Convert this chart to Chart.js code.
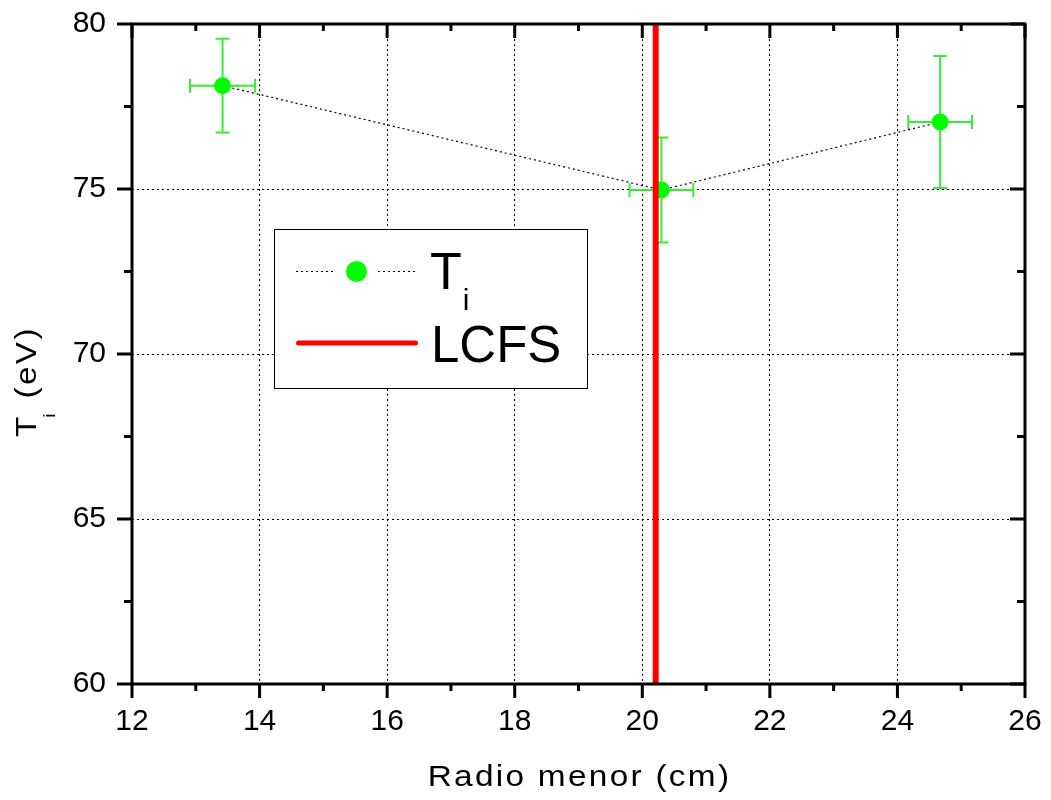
<!DOCTYPE html>
<html><head><meta charset="utf-8">
<script src="https://cdn.jsdelivr.net/npm/chart.js@4.4.0/dist/chart.umd.min.js"></script>
<style>html,body{margin:0;padding:0;background:#fff;}#wrap{width:1051px;height:800px;}</style>
</head><body><div id="wrap"><canvas id="c" width="1051" height="800"></canvas></div>
<script>
// ---- data ----
const radio    = [13.42, 20.30, 24.67];   // Radio menor (cm)
const radioErr = [0.51, 0.50, 0.50];
const ti       = [78.13, 74.97, 77.03];   // T_i (eV)
const tiErr    = [1.42, 1.59, 2.00];
const lcfsX    = [20.21, 20.21];
const lcfsY    = [60, 80];
const xRange   = [12, 26];
const yRange   = [60, 80];
const xStep = 2, yStep = 5;
const xTitle = 'Radio menor (cm)';
const yTitleMain = 'T', yTitleSub = 'i', yTitleRest = ' (eV)';
const legendTiMain = 'T', legendTiSub = 'i', legendLcfs = 'LCFS';

const FONT = '"Liberation Sans", Arial, sans-serif';
const GREEN = '#00ff00', ERR_GREEN = '#33ee33', RED = '#ff0000';

const errorBars = {
  id: 'errorBars',
  beforeDatasetDraw(chart, args) {
    if (args.index !== 1) return;
    const {ctx, scales: {x, y}} = chart;
    ctx.save();
    ctx.strokeStyle = ERR_GREEN; ctx.lineWidth = 2; ctx.setLineDash([]);
    const cap = 7;
    radio.forEach((r, i) => {
      const px = x.getPixelForValue(r), py = y.getPixelForValue(ti[i]);
      const y1 = y.getPixelForValue(ti[i] + tiErr[i]), y2 = y.getPixelForValue(ti[i] - tiErr[i]);
      const x1 = x.getPixelForValue(r - radioErr[i]), x2 = x.getPixelForValue(r + radioErr[i]);
      ctx.beginPath();
      ctx.moveTo(px, y1); ctx.lineTo(px, y2);
      ctx.moveTo(px - cap, y1); ctx.lineTo(px + cap, y1);
      ctx.moveTo(px - cap, y2); ctx.lineTo(px + cap, y2);
      ctx.moveTo(x1, py); ctx.lineTo(x2, py);
      ctx.moveTo(x1, py - cap); ctx.lineTo(x1, py + cap);
      ctx.moveTo(x2, py - cap); ctx.lineTo(x2, py + cap);
      ctx.stroke();
    });
    ctx.restore();
  }
};

const frameAndText = {
  id: 'frameAndText',
  afterDraw(chart) {
    const {ctx, chartArea: a, scales: {x, y}} = chart;
    ctx.save();
    ctx.setLineDash([]);
    ctx.strokeStyle = '#000'; ctx.lineWidth = 3;
    ctx.strokeRect(a.left, a.top, a.right - a.left, a.bottom - a.top);
    ctx.lineWidth = 3;
    ctx.beginPath();
    for (let v = xRange[0]; v <= xRange[1] + 1e-9; v += xStep / 2) {
      const p = x.getPixelForValue(v);
      const major = Math.abs((v - xRange[0]) % xStep) < 1e-9;
      const L = major ? 14 : 7;
      ctx.moveTo(p, a.bottom); ctx.lineTo(p, a.bottom + L);
      ctx.moveTo(p, a.top); ctx.lineTo(p, a.top + L);
    }
    for (let v = yRange[0]; v <= yRange[1] + 1e-9; v += yStep / 2) {
      const p = y.getPixelForValue(v);
      const major = Math.abs((v - yRange[0]) % yStep) < 1e-9;
      const L = major ? 15 : 8;
      ctx.moveTo(a.left - L, p); ctx.lineTo(a.left, p);
      ctx.moveTo(a.right - L, p); ctx.lineTo(a.right, p);
    }
    ctx.stroke();

    // axis titles (slightly widened glyphs like the reference)
    const SX = 1.15;
    ctx.fillStyle = '#000';
    ctx.textBaseline = 'alphabetic';
    ctx.letterSpacing = '2px';
    ctx.save();
    ctx.translate((a.left + a.right) / 2 + 1, 786);
    ctx.scale(SX, 1);
    ctx.font = '29px ' + FONT;
    ctx.textAlign = 'center';
    ctx.fillText(xTitle, 0, 0);
    ctx.restore();

    ctx.save();
    ctx.translate(36, 437);
    ctx.rotate(-Math.PI / 2);
    ctx.scale(SX, 1);
    ctx.textAlign = 'left';
    ctx.font = '29px ' + FONT;
    ctx.fillText(yTitleMain, 0, 0);
    let w = ctx.measureText(yTitleMain).width;
    ctx.font = '17px ' + FONT;
    ctx.fillText(yTitleSub, w - 3, 19);
    w += ctx.measureText(yTitleSub).width;
    ctx.font = '29px ' + FONT;
    ctx.fillText(yTitleRest, w - 2, 0);
    ctx.restore();

    // legend
    ctx.letterSpacing = '0px';
    ctx.fillStyle = '#fff';
    ctx.fillRect(274, 229, 313, 159);
    ctx.strokeStyle = '#000'; ctx.lineWidth = 1;
    ctx.strokeRect(274.5, 229.5, 313, 159);
    ctx.setLineDash([2, 3]);
    ctx.beginPath();
    ctx.moveTo(296, 271.5); ctx.lineTo(334, 271.5);
    ctx.moveTo(378, 271.5); ctx.lineTo(418, 271.5);
    ctx.stroke();
    ctx.setLineDash([]);
    ctx.fillStyle = GREEN;
    ctx.beginPath(); ctx.arc(356.5, 271.5, 10.5, 0, Math.PI * 2); ctx.fill();
    ctx.strokeStyle = RED; ctx.lineWidth = 5; ctx.lineCap = 'round';
    ctx.beginPath(); ctx.moveTo(298.5, 343); ctx.lineTo(415.5, 343); ctx.stroke();
    ctx.fillStyle = '#000';
    ctx.textAlign = 'left';
    ctx.font = '52px ' + FONT;
    ctx.fillText(legendTiMain, 430, 289);
    let tw = ctx.measureText(legendTiMain).width;
    ctx.font = '30px ' + FONT;
    ctx.fillText(legendTiSub, 430 + tw + 1, 310);
    ctx.font = '51px ' + FONT;
    ctx.fillText(legendLcfs, 431, 362);
    ctx.restore();
  }
};

new Chart(document.getElementById('c'), {
  type: 'scatter',
  data: {
    datasets: [
      {
        label: legendLcfs,
        data: lcfsX.map((v, i) => ({x: v, y: lcfsY[i]})),
        showLine: true, borderColor: RED, borderWidth: 6,
        pointRadius: 0, order: 0
      },
      {
        label: legendTiMain + legendTiSub,
        data: radio.map((v, i) => ({x: v, y: ti[i]})),
        showLine: true, borderColor: '#000', borderWidth: 1.2, borderDash: [2, 3],
        pointRadius: 8.5, pointBackgroundColor: GREEN, pointBorderWidth: 0,
        order: 1
      }
    ]
  },
  options: {
    responsive: false, animation: false, devicePixelRatio: 1,
    layout: {padding: {top: 24, right: 26, left: 0, bottom: 0}},
    plugins: {legend: {display: false}, tooltip: {enabled: false}},
    scales: {
      x: {
        type: 'linear', min: xRange[0], max: xRange[1],
        ticks: {stepSize: xStep, color: '#000', font: {size: 30, family: FONT}, padding: 20, maxRotation: 0},
        grid: {color: '#000', lineWidth: 1, drawTicks: false},
        border: {display: false, dash: [2, 3]},
        afterFit(s) { s.height = 116; s.paddingLeft = 0; s.paddingRight = 0; }
      },
      y: {
        type: 'linear', min: yRange[0], max: yRange[1],
        ticks: {stepSize: yStep, color: '#000', font: {size: 30, family: FONT}, padding: 26},
        grid: {color: '#000', lineWidth: 1, drawTicks: false},
        border: {display: false, dash: [2, 3]},
        afterFit(s) { s.width = 132; s.paddingTop = 0; s.paddingBottom = 0; }
      }
    }
  },
  plugins: [errorBars, frameAndText]
});
</script></body></html>
